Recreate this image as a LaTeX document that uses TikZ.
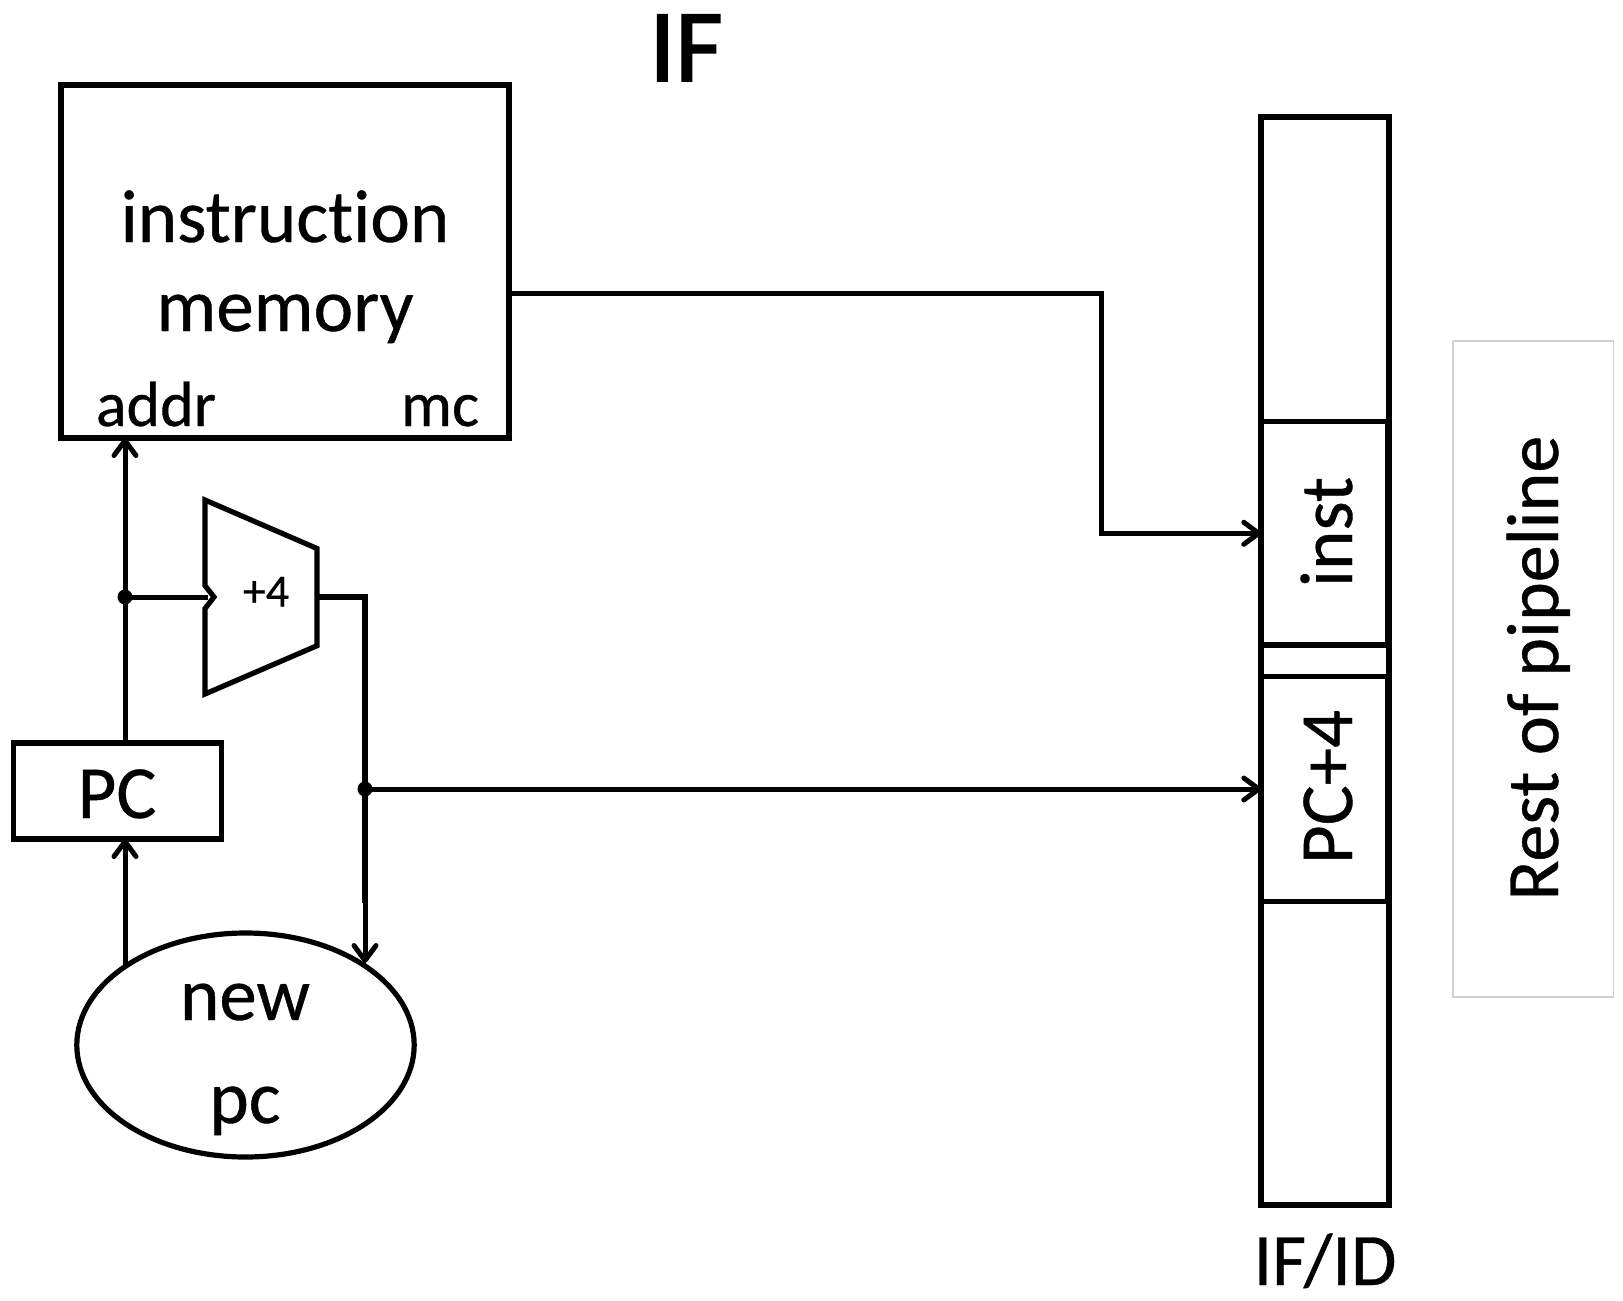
\documentclass[tikz,border=0pt]{standalone}
\usepackage{fontspec}
\setmainfont[Ligatures={NoCommon,NoDiscretionary,NoRare},FakeBold=0.5]{Carlito}
\newfontfamily\titlefont[FakeBold=1.9]{Carlito}
\usetikzlibrary{shapes.geometric,arrows.meta,calc}
\tikzset{
  box/.style={draw=black,line width=5.2pt,inner sep=0pt,outer sep=0pt,fill=white},
  wire/.style={draw=black,line width=5pt,line join=miter},
  wirethick/.style={draw=black,line width=5.5pt,line join=miter},
  arrowwire/.style={wire,-{Straight Barb[length=15pt,width=22pt,line width=5pt,round]}},
  lbl/.style={inner sep=0pt,outer sep=0pt,anchor=base,text=black},
  big/.style={lbl,font=\fontsize{75}{75}\selectfont},
  mid/.style={lbl,font=\fontsize{64}{64}\selectfont},
  dotnode/.style={circle,fill=black,inner sep=0pt,minimum size=15pt},
}
\begin{document}
\begin{tikzpicture}[x=1pt,y=-1pt]
\useasboundingbox (0,0) rectangle (1623,1301);
\fill[white] (0,0) rectangle (1623,1301);
% boxes
\node[box,minimum width=448pt,minimum height=353pt] (mem) at (285,261.5) {};
\node[box,minimum width=208pt,minimum height=96pt] (pc) at (117.7,791) {};
\node[box,ellipse,minimum width=337.4pt,minimum height=224pt] (newpc) at (245.5,1045) {};
\node[box,minimum width=128pt,minimum height=1088pt] (ifid) at (1325,661) {};
\node[box,minimum width=126.5pt,minimum height=223.5pt] (inst) at (1324.5,533.3) {};
\node[box,minimum width=126.5pt,minimum height=225pt] (pcfour) at (1324.5,789) {};
\node[draw={rgb,255:red,208;green,208;blue,208},line width=1.2pt,inner sep=0pt,minimum width=160.7pt,minimum height=656pt] (rest) at (1533.3,669) {};
% adder
\draw[box,fill=none,line join=miter] (205,500) coordinate (addtl) -- (317,548.5) -- (317,645.7) -- (205,694) -- (205,608.6) -- (214,597) coordinate (addtip) -- (205,585.6) -- cycle;
\coordinate (addin) at (208,597);
\coordinate (addout) at (317,597);
% labels
\node[lbl,font=\titlefont\fontsize{103}{103}\selectfont] (title) at (686,81) {IF};
\node[big] (t1) at (285,242) {instruction};
\node[big] (t2) at (285,331) {memory};
\node[mid] (taddr) at (156,426) {addr};
\node[mid] (tmc) at (440,426) {mc};
\node[lbl,font=\fontsize{46}{46}\selectfont] (tplus) at (266,606.5) {+4};
\node[big] (tpc) at (117,818) {PC};
\node[big] (tnew) at (245,1020) {new};
\node[big] (tpcl) at (245,1123) {pc};
\node[big,rotate=90] (tinst) at (1352,532) {inst};
\node[big,rotate=90] (tpcf) at (1352,787) {PC+4};
\node[lbl,font=\fontsize{74}{74}\selectfont,rotate=90] (trest) at (1558,668) {Rest of pipeline};
\node[lbl,font=\fontsize{74}{74}\selectfont] (tifid) at (1325,1285) {IF/ID};
% junctions
\coordinate (j1) at (125,597);
\coordinate (j2) at (365,789);
\coordinate (w1) at (1101,293);
\coordinate (nin) at (365,963);
\coordinate (npc) at (125,966);
% connectors
\draw[arrowwire] (pc.north -| j1) -- (mem.south -| j1);
\draw[wire] (j1) -- (addin);
\draw[arrowwire] (npc) -- (pc.south -| npc);
\draw[wirethick] (addout) -| (j2);
\draw[wirethick] (j2) -- (365,903) coordinate (thin);
\draw[arrowwire] (thin) -- (nin);
\draw[arrowwire] (j2) -- (pcfour.west |- j2);
\draw[arrowwire] (mem.east |- w1) -- (w1) |- (inst.west);
\node[dotnode] (dot1) at (j1) {};
\node[dotnode] (dot2) at (j2) {};
\end{tikzpicture}
\end{document}
